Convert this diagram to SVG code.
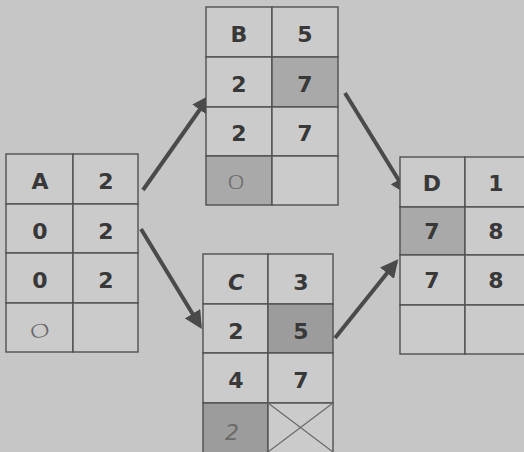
<svg xmlns="http://www.w3.org/2000/svg" width="524" height="452" viewBox="0 0 524 452">
<defs>
<style>
.cell{fill:#cbcbcb;stroke:#505050;stroke-width:1.4}
.sh{fill:#a9a9a9;stroke:#505050;stroke-width:1.4}
.sh2{fill:#9c9c9c;stroke:#505050;stroke-width:1.4}
.t{font-family:"DejaVu Sans","Liberation Sans",sans-serif;font-size:22px;fill:#383838;text-anchor:middle;dominant-baseline:central;font-weight:bold}
.hw{font-family:"DejaVu Sans","Liberation Sans",sans-serif;font-size:22px;fill:#6a6a6a;text-anchor:middle;dominant-baseline:central;font-weight:200}
.arr{stroke:#4a4a4a;stroke-width:4;fill:none;marker-end:url(#ah)}
</style>
<marker id="ah" viewBox="0 0 10 10" refX="8" refY="5" markerWidth="4.5" markerHeight="4.5" orient="auto" markerUnits="strokeWidth">
<path d="M0,0 L10,5 L0,10 Z" fill="#4a4a4a"/>
</marker>
</defs>
<rect width="524" height="452" fill="#c6c6c6"/>
<g id="connectors">
<line class="arr" x1="143" y1="190" x2="208" y2="98"/>
<line class="arr" x1="141" y1="229" x2="200" y2="326"/>
<line class="arr" x1="345" y1="93" x2="406" y2="192"/>
<line class="arr" x1="335" y1="338" x2="396" y2="262"/>
</g>
<g id="A">
<rect class="cell" x="6" y="154" width="67" height="50"/>
<rect class="cell" x="73" y="154" width="65" height="50"/>
<rect class="cell" x="6" y="204" width="67" height="49"/>
<rect class="cell" x="73" y="204" width="65" height="49"/>
<rect class="cell" x="6" y="253" width="67" height="50"/>
<rect class="cell" x="73" y="253" width="65" height="50"/>
<rect class="cell" x="6" y="303" width="67" height="49"/>
<rect class="cell" x="73" y="303" width="65" height="49"/>
<text class="t" x="40" y="181">A</text>
<text class="t" x="106" y="181">2</text>
<text class="t" x="40" y="231">0</text>
<text class="t" x="106" y="231">2</text>
<text class="t" x="40" y="280">0</text>
<text class="t" x="106" y="280">2</text>
<text class="hw" x="0" y="0" font-size="18" transform="translate(40 331) rotate(-15) scale(1.7 0.8)">0</text>
</g>
<g id="B">
<rect class="cell" x="206" y="7" width="66" height="50"/>
<rect class="cell" x="272" y="7" width="66" height="50"/>
<rect class="cell" x="206" y="57" width="66" height="50"/>
<rect class="sh" x="272" y="57" width="66" height="50"/>
<rect class="cell" x="206" y="107" width="66" height="49"/>
<rect class="cell" x="272" y="107" width="66" height="49"/>
<rect class="sh" x="206" y="156" width="66" height="49"/>
<rect class="cell" x="272" y="156" width="66" height="49"/>
<text class="t" x="239" y="34">B</text>
<text class="t" x="305" y="34">5</text>
<text class="t" x="239" y="84">2</text>
<text class="t" x="305" y="84">7</text>
<text class="t" x="239" y="133">2</text>
<text class="t" x="305" y="133">7</text>
<text class="hw" x="0" y="0" font-size="18" fill="#555" transform="translate(236 182) scale(1.4 0.9)">0</text>
</g>
<g id="C">
<rect class="cell" x="203" y="254" width="65" height="50"/>
<rect class="cell" x="268" y="254" width="65" height="50"/>
<rect class="cell" x="203" y="304" width="65" height="49"/>
<rect class="sh2" x="268" y="304" width="65" height="49"/>
<rect class="cell" x="203" y="353" width="65" height="50"/>
<rect class="cell" x="268" y="353" width="65" height="50"/>
<rect class="sh2" x="203" y="403" width="65" height="55"/>
<rect class="cell" x="268" y="403" width="65" height="55"/>
<line x1="268" y1="403" x2="333" y2="452" stroke="#6a6a6a" stroke-width="1.2"/>
<line x1="333" y1="403" x2="268" y2="452" stroke="#6a6a6a" stroke-width="1.2"/>
<text class="t" x="236" y="282" font-style="italic">C</text>
<text class="t" x="301" y="282">3</text>
<text class="t" x="236" y="331">2</text>
<text class="t" x="301" y="331">5</text>
<text class="t" x="236" y="380">4</text>
<text class="t" x="301" y="380">7</text>
<text class="hw" x="232" y="432" font-size="26" font-style="italic">2</text>
</g>
<g id="D">
<rect class="cell" x="400" y="157" width="65" height="50"/>
<rect class="cell" x="465" y="157" width="65" height="50"/>
<rect class="sh" x="400" y="207" width="65" height="48"/>
<rect class="cell" x="465" y="207" width="65" height="48"/>
<rect class="cell" x="400" y="255" width="65" height="50"/>
<rect class="cell" x="465" y="255" width="65" height="50"/>
<rect class="cell" x="400" y="305" width="65" height="49"/>
<rect class="cell" x="465" y="305" width="65" height="49"/>
<text class="t" x="432" y="183">D</text>
<text class="t" x="496" y="183">1</text>
<text class="t" x="432" y="231">7</text>
<text class="t" x="496" y="231">8</text>
<text class="t" x="432" y="280">7</text>
<text class="t" x="496" y="280">8</text>
</g>
</svg>
